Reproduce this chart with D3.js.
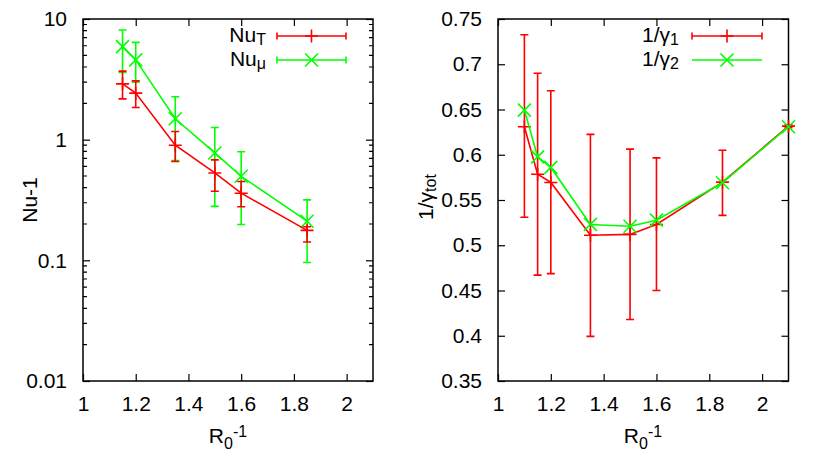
<!DOCTYPE html>
<html>
<head>
<meta charset="utf-8">
<script src="https://cdn.jsdelivr.net/npm/d3@7"></script>
<style>
  body { margin: 0; background: #fff; }
  text { font-family: "Liberation Sans", Arial, sans-serif; }
</style>
</head>
<body>
<div id="chart"></div>
<script>
const xTicks = [1, 1.2, 1.4, 1.6, 1.8, 2];

// left panel: Nu-1 (log) vs R0^-1
const nuX = [1.15, 1.2, 1.35, 1.5, 1.6, 1.85];
const nuT = [2.9, 2.43, 0.9, 0.53, 0.36, 0.177];
const nuTLo = [2.18, 1.85, 0.66, 0.374, 0.278, 0.142];
const nuTHi = [3.7, 3.07, 1.17, 0.68, 0.45, 0.19];
const nuMu = [5.9, 4.58, 1.49, 0.776, 0.497, 0.211];
const nuMuLo = [3.6, 3.0, 0.67, 0.28, 0.198, 0.096];
const nuMuHi = [8.1, 6.4, 2.27, 1.26, 0.795, 0.317];
const nuTicks = [0.01, 0.1, 1, 10];

// right panel: 1/gamma vs R0^-1
const gX = [1.1, 1.15, 1.2, 1.35, 1.5, 1.6, 1.85, 2.1];
const g1 = [0.631, 0.5785, 0.5694, 0.511, 0.512, 0.523, 0.5697, 0.6316];
const g1Lo = [0.531, 0.467, 0.4687, 0.3993, 0.418, 0.45, 0.533, 0.63];
const g1Hi = [0.7326, 0.69, 0.6707, 0.6225, 0.6062, 0.5966, 0.605, 0.633];
const g2 = [0.6493, 0.5977, 0.586, 0.523, 0.521, 0.5277, 0.569, 0.631];
const gTicks = [0.35, 0.4, 0.45, 0.5, 0.55, 0.6, 0.65, 0.7, 0.75];

const RED = "#ff0000", GREEN = "#00ff00";
const FS = 21;
const plotTop = 19, plotBottom = 381;

const svg = d3.select("#chart").append("svg")
    .attr("width", 830)
    .attr("height", 453);

function axes(g, x, y, yTicks, yFmt) {
    const left = x.range()[0], right = x.range()[1];

    const styleAxis = (sel) => {
        sel.select(".domain").remove();
        sel.attr("font-size", FS).attr("font-family", null);
        sel.selectAll("line").attr("stroke", "#000").attr("stroke-width", 1.2);
        sel.selectAll("text").attr("fill", "#000");
    };

    g.append("g").attr("transform", "translate(0," + plotBottom + ")")
        .call(d3.axisBottom(x).tickValues(xTicks).tickSize(-7).tickPadding(15).tickFormat(d => String(d)))
        .call(styleAxis);
    g.append("g").attr("transform", "translate(0," + plotTop + ")")
        .call(d3.axisTop(x).tickValues(xTicks).tickSize(-7).tickFormat(""))
        .call(styleAxis);
    g.append("g").attr("transform", "translate(" + left + ",0)")
        .call(d3.axisLeft(y).tickValues(yTicks).tickSize(-7).tickPadding(16).tickFormat(yFmt))
        .call(styleAxis);
    g.append("g").attr("transform", "translate(" + right + ",0)")
        .call(d3.axisRight(y).tickValues(yTicks).tickSize(-7).tickFormat(""))
        .call(styleAxis);

    g.append("rect")
        .attr("x", left).attr("y", plotTop)
        .attr("width", right - left).attr("height", plotBottom - plotTop)
        .attr("fill", "none").attr("stroke", "#000").attr("stroke-width", 1.5);
}

function series(g, x, y, xs, ys, color, marker, lo, hi) {
    const pts = xs.map((d, i) => [d, ys[i]]);
    const c = g.append("g").attr("stroke", color).attr("fill", "none").attr("stroke-width", 1.6);
    c.append("path")
        .attr("d", d3.line().x(d => x(d[0])).y(d => y(d[1]))(pts));
    if (lo) {
        c.selectAll(".err").data(xs).join("path")
            .attr("class", "err")
            .attr("d", (d, i) => {
                const px = x(d), a = y(lo[i]), b = y(hi[i]);
                return "M" + px + "," + a + "V" + b +
                    "M" + (px - 4) + "," + a + "H" + (px + 4) +
                    "M" + (px - 4) + "," + b + "H" + (px + 4);
            });
    }
    c.selectAll(".mk").data(xs).join("path")
        .attr("class", "mk")
        .attr("d", (d, i) => markerPath(marker, x(d), y(ys[i])));
}

function markerPath(type, px, py) {
    const s = 6.5;
    if (type === "plus") {
        return "M" + (px - s) + "," + py + "H" + (px + s) + "M" + px + "," + (py - s) + "V" + (py + s);
    }
    return "M" + (px - s) + "," + (py - s) + "L" + (px + s) + "," + (py + s) +
        "M" + (px - s) + "," + (py + s) + "L" + (px + s) + "," + (py - s);
}

function legendEntry(g, x0, x1, y, color, marker, caps) {
    const c = g.append("g").attr("stroke", color).attr("fill", "none").attr("stroke-width", 1.6);
    let d = "M" + x0 + "," + y + "H" + x1;
    if (caps) d += "M" + x0 + "," + (y - 3.5) + "V" + (y + 3.5) + "M" + x1 + "," + (y - 3.5) + "V" + (y + 3.5);
    c.append("path").attr("d", d);
    c.append("path").attr("d", markerPath(marker, (x0 + x1) / 2, y));
}

function xLabel(g, cx) {
    const t = g.append("text").attr("x", cx).attr("y", 443)
        .attr("text-anchor", "middle").attr("font-size", FS);
    t.append("tspan").text("R");
    t.append("tspan").attr("font-size", 16).attr("dy", 6).text("0");
    t.append("tspan").attr("font-size", 16).attr("dy", -12).text("-1");
}

// ---- left panel
const xL = d3.scaleLinear().domain([1, 2.1]).range([83, 373]);
const yL = d3.scaleLog().domain([0.01, 10]).range([plotBottom, plotTop]);
const gl = svg.append("g");
axes(gl, xL, yL, nuTicks, d => String(d));

// minor log ticks
const minor = [];
[0.01, 0.1, 1].forEach(k => { for (let m = 2; m <= 9; m++) minor.push(k * m); });
gl.selectAll(".minor").data(minor).join("path")
    .attr("class", "minor")
    .attr("stroke", "#000").attr("stroke-width", 1.2)
    .attr("d", d => "M83," + yL(d) + "H87M373," + yL(d) + "H369");

series(gl, xL, yL, nuX, nuMu, GREEN, "cross", nuMuLo, nuMuHi);
series(gl, xL, yL, nuX, nuT, RED, "plus", nuTLo, nuTHi);

legendEntry(gl, 277, 346, 36, RED, "plus", true);
legendEntry(gl, 277, 346, 60, GREEN, "cross", true);
let t = gl.append("text").attr("x", 266).attr("y", 42).attr("text-anchor", "end").attr("font-size", FS);
t.append("tspan").text("Nu");
t.append("tspan").attr("font-size", 16).attr("dy", 3).text("T");
t = gl.append("text").attr("x", 266).attr("y", 66).attr("text-anchor", "end").attr("font-size", FS);
t.append("tspan").text("Nu");
t.append("tspan").attr("font-size", 16).attr("dy", 3).text("μ");

gl.append("text")
    .attr("transform", "translate(37,200) rotate(-90)")
    .attr("text-anchor", "middle").attr("font-size", FS)
    .text("Nu-1");
xLabel(gl, 228);

// ---- right panel
const xR = d3.scaleLinear().domain([1, 2.1]).range([498, 788.5]);
const yR = d3.scaleLinear().domain([0.35, 0.75]).range([plotBottom, plotTop]);
const gr = svg.append("g");
axes(gr, xR, yR, gTicks, d => String(d));

series(gr, xR, yR, gX, g1, RED, "plus", g1Lo, g1Hi);
series(gr, xR, yR, gX, g2, GREEN, "cross");

legendEntry(gr, 692, 762, 36, RED, "plus", true);
legendEntry(gr, 692, 762, 60, GREEN, "cross", false);
t = gr.append("text").attr("x", 679).attr("y", 42).attr("text-anchor", "end").attr("font-size", FS);
t.append("tspan").text("1/γ");
t.append("tspan").attr("font-size", 16).attr("dy", 3).text("1");
t = gr.append("text").attr("x", 679).attr("y", 66).attr("text-anchor", "end").attr("font-size", FS);
t.append("tspan").text("1/γ");
t.append("tspan").attr("font-size", 16).attr("dy", 3).text("2");

t = gr.append("text")
    .attr("transform", "translate(433,197) rotate(-90)")
    .attr("text-anchor", "middle").attr("font-size", FS);
t.append("tspan").text("1/γ");
t.append("tspan").attr("font-size", 16).attr("dy", 3).text("tot");
xLabel(gr, 643);
</script>
</body>
</html>
